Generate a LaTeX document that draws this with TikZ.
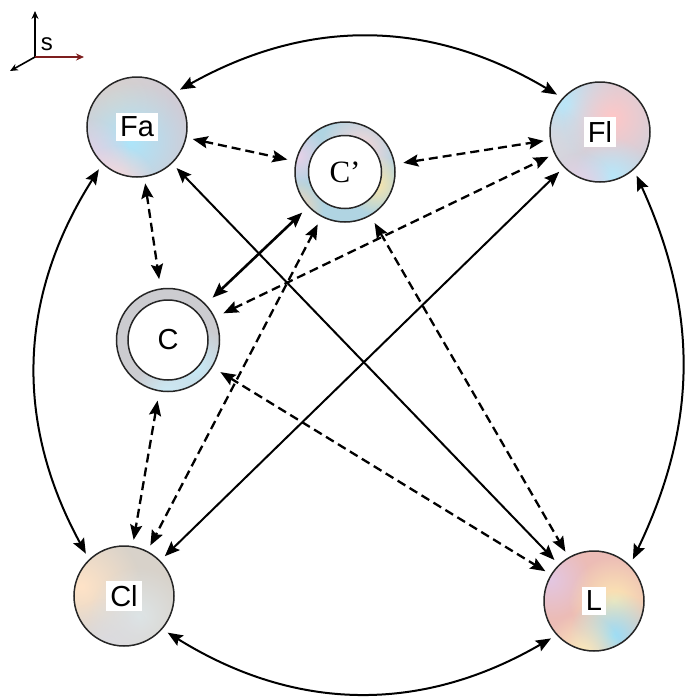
\documentclass[tikz,border=0pt]{standalone}
\usepackage{fontspec}
\setmainfont{Liberation Sans}
\newfontfamily\primefont{Liberation Serif}
\usetikzlibrary{arrows.meta,fadings}

% soft round colour spot, fading out from the middle
\tikzfading[name=softblob, inner color=transparent!0, outer color=transparent!100]
\newcommand{\spot}[4]{\fill[#1,path fading=softblob] (#2,#3) circle (#4);}

\definecolor{fabase}{RGB}{208,204,214}
\definecolor{flbase}{RGB}{210,208,218}
\definecolor{clbase}{RGB}{216,210,202}
\definecolor{lbase}{RGB}{236,188,182}
\definecolor{cpbase}{RGB}{176,212,226}
\definecolor{cbase}{RGB}{204,204,208}
\definecolor{axisred}{RGB}{125,30,30}

\tikzset{
  tip/.tip={Stealth[length=15pt,width=12pt,inset=2.5pt]},
  arr/.style={tip-tip, line width=2pt},
  thickarr/.style={tip-tip, line width=2.6pt},
  darr/.style={tip-tip, line width=2.3pt, dash pattern=on 9pt off 5pt},
  ball/.style={circle, draw=black!85, line width=1.5pt, minimum size=100pt,
    inner sep=0pt, outer sep=7pt, font=\fontsize{29pt}{32pt}\selectfont},
  ring/.style={ball, outer sep=9pt},
  axisarr/.style={-{Stealth[length=8pt,width=7pt]}, line width=1.6pt},
}
\setlength{\fboxsep}{4pt}

\begin{document}
\begin{tikzpicture}[x=1pt,y=1pt]
  \fill[white] (0,0) rectangle (689,-697);
  \useasboundingbox (0,0) rectangle (689,-697);

  % coordinate axes in the corner
  \coordinate (o) at (35,-57);
  \coordinate (ay) at (35,-11);
  \coordinate (ax) at (84,-57);
  \coordinate (az) at (10,-71);
  \draw[axisarr] (o) -- (ay);
  \draw[axisarr, axisred] (o) -- (ax);
  \draw[axisarr] (o) -- (az);
  \node[font=\fontsize{24pt}{26pt}\selectfont] (slab) at (47,-44) {s};

  % outer balls
  \node[ball, fill=fabase, path picture={
      \begin{scope}[shift={(path picture bounding box.center)}]
        \spot{brown!25!gray!35!white}{0}{35}{60}
        \spot{cyan!32!white}{15}{-5}{60}
        \spot{violet!18!white}{-30}{-25}{45}
        \spot{pink!60!white}{0}{-48}{40}
      \end{scope}}] (Fa) at (137,-127) {\colorbox{white}{Fa}};

  \node[ball, fill=flbase, path picture={
      \begin{scope}[shift={(path picture bounding box.center)}]
        \spot{cyan!28!white}{-15}{38}{50}
        \spot{red!22!white}{28}{25}{50}
        \spot{blue!10!gray!28!white}{-35}{-5}{40}
        \spot{cyan!28!white}{28}{-35}{40}
        \spot{violet!18!white}{-5}{-45}{35}
      \end{scope}}] (Fl) at (600,-132) {\colorbox{white}{Fl}};

  \node[ball, fill=clbase, path picture={
      \begin{scope}[shift={(path picture bounding box.center)}]
        \spot{orange!22!white}{-25}{20}{60}
        \spot{cyan!18!gray!25!white}{32}{-10}{50}
        \spot{blue!10!gray!25!white}{0}{-42}{50}
      \end{scope}}] (Cl) at (124,-596) {\colorbox{white}{Cl}};

  \node[ball, fill=lbase, path picture={
      \begin{scope}[shift={(path picture bounding box.center)}]
        \spot{violet!22!white}{-32}{32}{40}
        \spot{yellow!50!orange!28!white}{32}{10}{45}
        \spot{cyan!40!white}{32}{-25}{45}
        \spot{yellow!45!orange!25!white}{0}{-42}{40}
      \end{scope}}] (L) at (594,-601) {\colorbox{white}{L}};

  % ringed balls: coloured band round a white core
  \node[ring, fill=cpbase, path picture={
      \begin{scope}[shift={(path picture bounding box.center)}]
        \spot{red!16!white}{30}{32}{40}
        \spot{yellow!45!orange!32!white}{46}{-2}{30}
        \spot{orange!32!white}{-36}{-26}{30}
        \spot{violet!18!white}{-32}{26}{30}
      \end{scope}
      \filldraw[fill=white, draw=black!85, line width=1.5pt]
        (path picture bounding box.center) circle (36.5);
      }] (Cp) at (345,-172) {\fontsize{31pt}{33pt}\selectfont\primefont C’};

  \node[ring, minimum size=103pt, fill=cbase, outer sep=10pt, path picture={
      \begin{scope}[shift={(path picture bounding box.center)}]
        \spot{cyan!22!white}{36}{-16}{40}
        \spot{cyan!20!white}{8}{-46}{35}
      \end{scope}
      \filldraw[fill=white, draw=black!85, line width=1.5pt]
        (path picture bounding box.center) circle (40);
      }] (C) at (168,-340) {C};

  % outer ring of curved links
  \draw[arr] (Fa.41) to[bend left=30] (Fl.139);
  \draw[arr] (Fl.310) to[bend left=25] (L.47);
  \draw[arr] (L.221) to[bend left=31] (Cl.320);
  \draw[arr] (Cl.132) to[bend left=30.5] (Fa.228);

  % straight solid links
  \draw[arr] (Fa) -- (L);
  \draw[arr] (Fl) -- (Cl);
  \draw[thickarr] (C) -- (Cp);

  % dashed links
  \draw[darr] (Fa) -- (Cp);
  \draw[darr] (Cp) -- (Fl);
  \draw[darr] (Fa) -- (C);
  \draw[darr] (C) -- (Fl);
  \draw[darr] (C) -- (L);
  \draw[darr] (Cp) -- (L);
  \draw[darr] (C) -- (Cl);
  \draw[darr] (Cp) -- (Cl);
\end{tikzpicture}
\end{document}
